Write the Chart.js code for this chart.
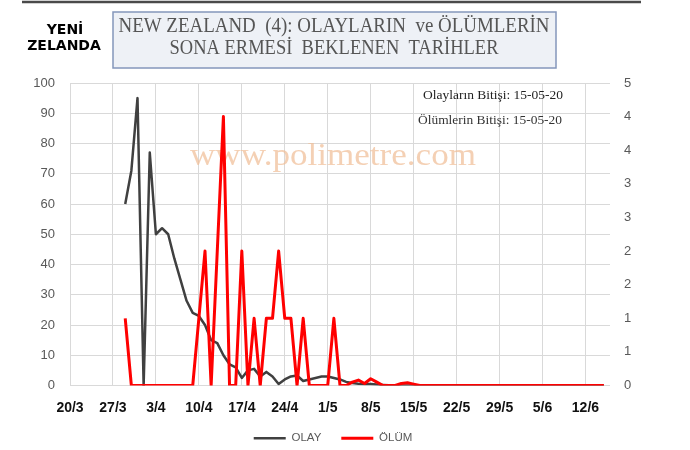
<!DOCTYPE html>
<html>
<head>
<meta charset="utf-8">
<script src="https://cdn.jsdelivr.net/npm/chart.js@4.4.1/dist/chart.umd.min.js"></script>
<style>
    html, body { margin: 0; padding: 0; background: #fff; }
    canvas { display: block; }
</style>
</head>
<body>
<canvas id="nzChart" width="690" height="450"></canvas>
<script>
// daily axis from 20/3 to 16/6, labelled once a week
const axisStartYear = 2020;
const axisDays = 89;
const tickLabels = ['20/3', '27/3', '3/4', '10/4', '17/4', '24/4', '1/5', '8/5', '15/5', '22/5', '29/5', '5/6', '12/6'];
const rightTickLabels = ['0', '1', '1', '2', '2', '3', '3', '4', '4', '5'];

// series start on 29/3 and run daily to 15/6
const dataStart = '29/3';
const olay = [
    60, 71, 95, 0, 77, 50, 52, 50, 42, 35,
    28, 24, 23, 20, 15, 14, 10, 7, 6, 2.5,
    5, 5.5, 3, 4.5, 3, 0.5, 2, 3, 3.3, 1.5,
    2, 2.5, 3, 3, 2.5, 2, 1.2, 0.8, 0.6, 0.5,
    0.5, 0.3, 0.2, 0.1, 0, 0, 0, 0, 0, 0,
    0, 0, 0, 0, 0, 0, 0, 0, 0, 0,
    0, 0, 0, 0, 0, 0, 0, 0, 0, 0,
    0, 0, 0, 0, 0, 0, 0, 0, 0
];
const olum = [
    1, 0, 0, 0, 0, 0, 0, 0, 0, 0,
    0, 0, 1, 2, 0, 2, 4, 0, 0, 2,
    0, 1, 0, 1, 1, 2, 1, 1, 0, 1,
    0, 0, 0, 0, 1, 0, 0, 0.05, 0.08, 0.03,
    0.1, 0.05, 0, 0, 0, 0.03, 0.04, 0.02, 0, 0,
    0, 0, 0, 0, 0, 0, 0, 0, 0, 0,
    0, 0, 0, 0, 0, 0, 0, 0, 0, 0,
    0, 0, 0, 0, 0, 0, 0, 0, 0
];

const dayLabels = [];
for (let i = 0; i < axisDays; i++) {
    const d = new Date(axisStartYear, 2, 20 + i);
    dayLabels.push(d.getDate() + '/' + (d.getMonth() + 1));
}

function onAxis(values) {
    const start = dayLabels.indexOf(dataStart);
    const arr = new Array(axisDays).fill(null);
    values.forEach((v, i) => { arr[start + i] = v; });
    return arr;
}

function fitText(ctx, text, cx, cy, width, font, color) {
    ctx.save();
    ctx.font = font;
    ctx.fillStyle = color;
    ctx.textAlign = 'center';
    ctx.textBaseline = 'middle';
    const w = ctx.measureText(text).width;
    ctx.translate(cx, cy);
    ctx.scale(width / w, 1);
    ctx.fillText(text, 0, 0);
    ctx.restore();
}

const decorations = {
    id: 'decorations',
    afterLayout(chart) {
        // let the date labels use the space above the legend, and move the legend a bit
        chart.scales.x.bottom = chart.legend.top + 14;
        chart.legend.top += 4;
        chart.legend.bottom += 4;
        chart.legend.left -= 12;
        chart.legend.right -= 12;
    },
    beforeDraw(chart) {
        const ctx = chart.ctx;
        ctx.save();
        ctx.fillStyle = '#fff';
        ctx.fillRect(0, 0, chart.width, chart.height);

        // top rule
        ctx.strokeStyle = '#4a4a4a';
        ctx.lineWidth = 2.5;
        ctx.beginPath();
        ctx.moveTo(22, 2);
        ctx.lineTo(641, 2);
        ctx.stroke();

        // country name
        ctx.fillStyle = '#000';
        ctx.textAlign = 'center';
        ctx.textBaseline = 'middle';
        ctx.font = 'bold 14px "DejaVu Sans"';
        ctx.fillText('YENİ', 65, 30);
        ctx.fillText('ZELANDA', 64, 46);

        // title box
        ctx.fillStyle = '#eef1f6';
        ctx.strokeStyle = '#8496bb';
        ctx.lineWidth = 1.5;
        ctx.fillRect(113, 12, 443, 56);
        ctx.strokeRect(113, 12, 443, 56);
        ctx.restore();

        fitText(ctx, 'NEW ZEALAND  (4): OLAYLARIN  ve ÖLÜMLERİN', 334, 27, 431, '20px "Liberation Serif"', '#555');
        fitText(ctx, 'SONA ERMESİ  BEKLENEN  TARİHLER', 334, 49, 329, '20px "Liberation Serif"', '#555');
    },
    beforeDatasetsDraw(chart) {
        fitText(chart.ctx, 'www.polimetre.com', 333, 157, 286, '32px "Liberation Serif"', 'rgba(240, 188, 148, 0.7)');
    },
    afterDatasetsDraw(chart) {
        fitText(chart.ctx, 'Olayların Bitişi: 15-05-20', 493, 96, 140, '13px "Liberation Serif"', '#222');
        fitText(chart.ctx, 'Ölümlerin Bitişi: 15-05-20', 490, 121, 144, '13px "Liberation Serif"', '#333');
    }
};

const axisFont = { family: '"Liberation Sans"', size: 13 };

const chart = new Chart(document.getElementById('nzChart'), {
    type: 'line',
    data: {
        labels: dayLabels,
        datasets: [
            {
                label: 'OLAY',
                data: onAxis(olay),
                borderColor: '#404040',
                backgroundColor: '#404040',
                borderWidth: 2.5,
                yAxisID: 'y',
                order: 1
            },
            {
                label: 'ÖLÜM',
                data: onAxis(olum),
                borderColor: '#ff0000',
                backgroundColor: '#ff0000',
                borderWidth: 3,
                yAxisID: 'y1',
                order: 0
            }
        ]
    },
    options: {
        responsive: false,
        animation: false,
        layout: { padding: { top: 83 } },
        elements: {
            point: { radius: 0 },
            line: { tension: 0, borderJoinStyle: 'round' }
        },
        scales: {
            x: {
                type: 'category',
                offset: false,
                grid: { color: '#d9d9d9', drawTicks: false },
                border: { display: false },
                ticks: {
                    autoSkip: false,
                    maxRotation: 0,
                    padding: 14,
                    color: '#111',
                    font: { family: '"Liberation Sans"', size: 14, weight: 'bold' }
                },
                afterBuildTicks: scale => {
                    scale.ticks = scale.ticks.filter(t => tickLabels.includes(dayLabels[t.value]));
                },
                afterFit: scale => { scale.height = 23; }
            },
            y: {
                position: 'left',
                min: 0,
                max: 100,
                ticks: { stepSize: 10, padding: 15, color: '#595959', font: axisFont },
                grid: { color: '#d9d9d9', drawTicks: false },
                border: { display: false },
                afterFit: scale => { scale.width = 70; }
            },
            y1: {
                position: 'right',
                min: 0,
                max: 4.5,
                ticks: {
                    stepSize: 0.5,
                    padding: 14,
                    color: '#595959',
                    font: axisFont,
                    callback: (v, i) => rightTickLabels[i]
                },
                grid: { drawOnChartArea: false, drawTicks: false },
                border: { display: false },
                afterFit: scale => { scale.width = 80; }
            }
        },
        plugins: {
            legend: {
                position: 'bottom',
                labels: {
                    usePointStyle: true,
                    pointStyle: 'line',
                    pointStyleWidth: 32,
                    boxHeight: 11,
                    padding: 20,
                    color: '#595959',
                    font: { family: '"Liberation Sans"', size: 11.5 },
                    sort: (a, b) => a.datasetIndex - b.datasetIndex
                }
            },
            tooltip: { enabled: false }
        }
    },
    plugins: [decorations]
});
</script>
</body>
</html>
